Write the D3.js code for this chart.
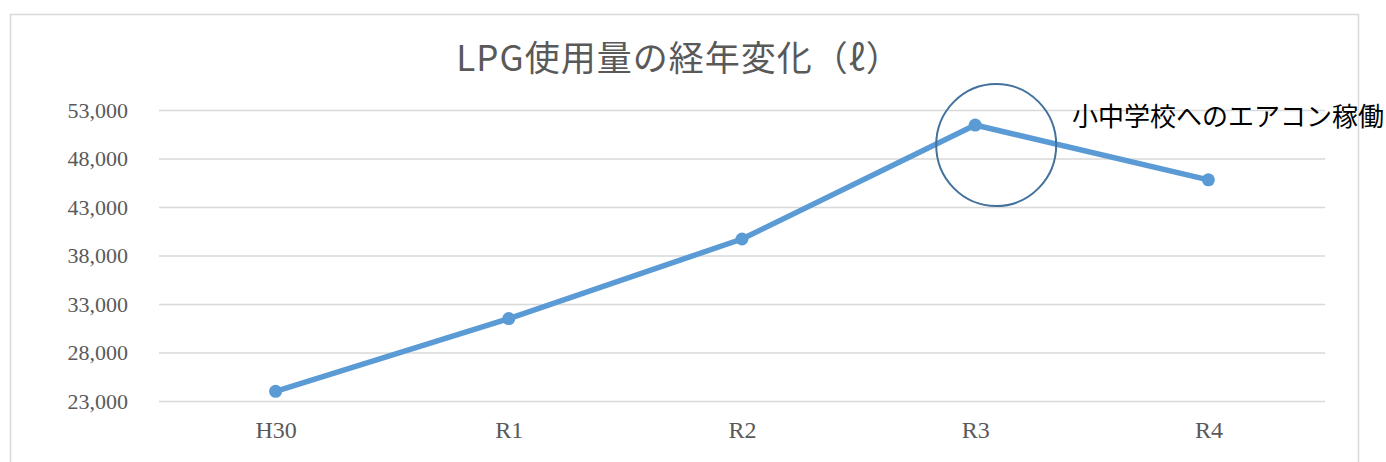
<!DOCTYPE html>
<html>
<head>
<meta charset="utf-8">
<script src="https://cdn.jsdelivr.net/npm/d3@7"></script>
<style>
  html, body { margin: 0; padding: 0; background: #fff; }
  svg { display: block; }
</style>
</head>
<body>
<script>
(function() {

    // Data
    var years = ['H30', 'R1', 'R2', 'R3', 'R4'];
    var lpgUsage = [24000, 31500, 39700, 51450, 45800];
    var yTicks = [23000, 28000, 33000, 38000, 43000, 48000, 53000];
    var title = 'LPG使用量の経年変化（ℓ）';
    var note = '小中学校へのエアコン稼働';

    var W = 1386, H = 462;
    var plot = {left: 159, right: 1325, top: 110, bottom: 401};

    var svg = d3.select('body').append('svg')
        .attr('width', W)
        .attr('height', H);

    // Chart frame
    svg.append('rect')
        .attr('x', 10.5).attr('y', 14.5)
        .attr('width', 1348).attr('height', 480)
        .attr('fill', '#fff')
        .attr('stroke', '#d9d9d9')
        .attr('stroke-width', 1.5);

    // Scales
    var x = d3.scalePoint()
        .domain(years)
        .range([plot.left, plot.right])
        .padding(0.5);
    var y = d3.scaleLinear()
        .domain([23000, 53000])
        .range([plot.bottom, plot.top]);

    // Gridlines + y labels
    var yAxis = svg.append('g')
        .attr('transform', 'translate(' + plot.left + ',0)')
        .call(d3.axisLeft(y)
            .tickValues(yTicks)
            .tickSize(-(plot.right - plot.left))
            .tickPadding(31)
            .tickFormat(d3.format(',')));
    yAxis.select('.domain').remove();
    yAxis.selectAll('.tick line')
        .attr('stroke', '#d9d9d9')
        .attr('stroke-width', 1.5);
    yAxis.selectAll('.tick text')
        .attr('fill', '#595959')
        .style('font-family', '"Liberation Serif", serif')
        .style('font-size', '22px');

    // x labels
    var xAxis = svg.append('g')
        .attr('transform', 'translate(0,' + plot.bottom + ')')
        .call(d3.axisBottom(x).tickSize(0).tickPadding(20));
    xAxis.select('.domain').remove();
    xAxis.selectAll('.tick text')
        .attr('fill', '#595959')
        .style('font-family', '"Liberation Serif", serif')
        .style('font-size', '24px');

    // Line
    var line = d3.line()
        .x(function(d, i) { return x(years[i]); })
        .y(function(d) { return y(d); });

    svg.append('path')
        .datum(lpgUsage)
        .attr('fill', 'none')
        .attr('stroke', '#5b9bd5')
        .attr('stroke-width', 5.5)
        .attr('stroke-linejoin', 'round')
        .attr('d', line);

    svg.selectAll('circle.pt')
        .data(lpgUsage)
        .enter().append('circle')
        .attr('class', 'pt')
        .attr('cx', function(d, i) { return x(years[i]); })
        .attr('cy', function(d) { return y(d); })
        .attr('r', 6.5)
        .attr('fill', '#5b9bd5');

    // Title
    svg.append('text')
        .attr('x', 679).attr('y', 71)
        .attr('text-anchor', 'middle')
        .attr('fill', '#595959')
        .style('font-family', '"Noto Sans CJK JP", sans-serif')
        .style('font-size', '35px')
        .style('letter-spacing', '1px')
        .text(title);

    // Annotation circle around R3
    svg.append('ellipse')
        .attr('cx', x('R3') + 21)
        .attr('cy', y(lpgUsage[3]) + 20)
        .attr('rx', 60).attr('ry', 61)
        .attr('fill', 'none')
        .attr('stroke', '#41719c')
        .attr('stroke-width', 2);

    svg.append('text')
        .attr('x', 1072).attr('y', 126)
        .attr('fill', '#000')
        .style('font-family', '"Noto Sans CJK JP", sans-serif')
        .style('font-size', '26px')
        .text(note);

})();
</script>
</body>
</html>
